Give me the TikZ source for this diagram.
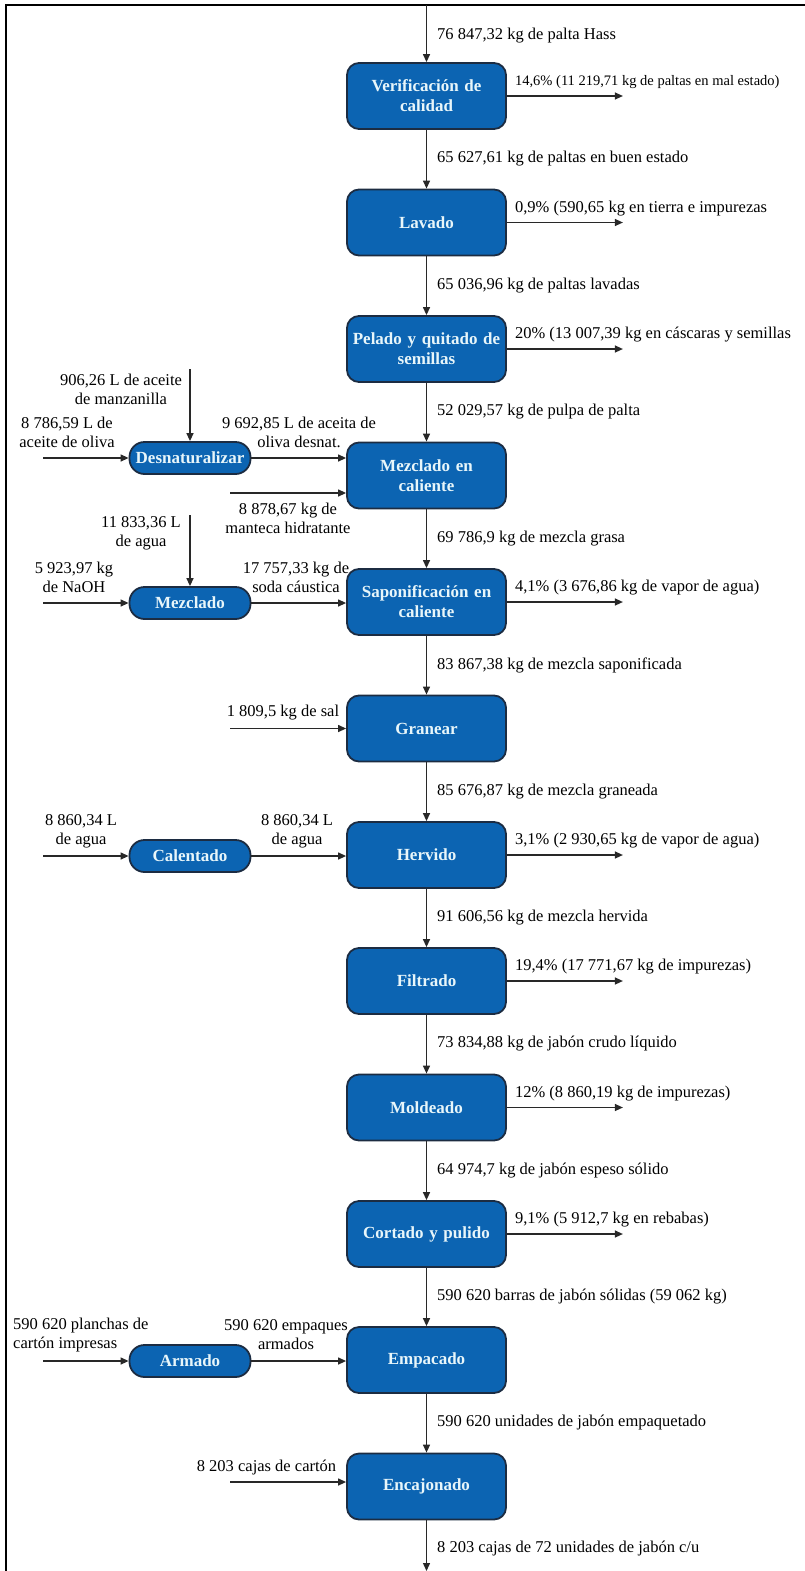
\documentclass[tikz,border=0pt]{standalone}
\usepackage{fontspec}
\setmainfont{Liberation Serif}
\usetikzlibrary{arrows.meta,calc}
\definecolor{boxblue}{RGB}{12,100,178}
\definecolor{boxedge}{RGB}{28,44,66}
\definecolor{boxtext}{RGB}{232,246,250}
\definecolor{flow}{RGB}{40,40,40}
\begin{document}
\begin{tikzpicture}[x=1pt,y=-1pt,
  mainbox/.style={draw=boxedge, line width=1.8pt, fill=boxblue, rounded corners=12pt,
    minimum width=159pt, minimum height=66pt, text width=155pt, align=center,
    text=boxtext, font=\fontsize{17}{20}\selectfont\bfseries, inner sep=1pt},
  sidebox/.style={draw=boxedge, line width=1.8pt, fill=boxblue, rounded corners=15pt,
    minimum width=121pt, minimum height=32pt, align=center,
    text=boxtext, font=\fontsize{17}{20}\selectfont\bfseries, inner sep=1pt},
  lbl/.style={font=\fontsize{16.5}{19}\selectfont, inner sep=0pt, text=black, align=center},
  lblsmall/.style={font=\fontsize{14.5}{17}\selectfont, inner sep=0pt, text=black},
  flowline/.style={draw=flow, line width=1.3pt, -{Triangle[width=7pt,length=8pt]}},
]
\useasboundingbox (0,0) rectangle (804,1571);

% outer frame (top and left edges)
\draw[line width=2pt, black] (6,1572) -- (6,5) -- (805,5);

% main process column
\node[mainbox] (verif) at (426.5,96)    {Verificación de\\calidad};
\node[mainbox] (lav)   at (426.5,222.5) {Lavado};
\node[mainbox] (pel)   at (426.5,349)   {Pelado y quitado de\\semillas};
\node[mainbox] (mezc)  at (426.5,475.5) {Mezclado en\\caliente};
\node[mainbox] (sapo)  at (426.5,602)   {Saponificación en\\caliente};
\node[mainbox] (gran)  at (426.5,728.5) {Granear};
\node[mainbox] (herv)  at (426.5,855)   {Hervido};
\node[mainbox] (filt)  at (426.5,981)   {Filtrado};
\node[mainbox] (mold)  at (426.5,1107.5){Moldeado};
\node[mainbox] (cort)  at (426.5,1234)  {Cortado y pulido};
\node[mainbox] (emp)   at (426.5,1360)  {Empacado};
\node[mainbox] (enc)   at (426.5,1486.5){Encajonado};

% auxiliary operations
\node[sidebox] (desn) at (190,458)  {Desnaturalizar};
\node[sidebox] (mzd)  at (190,603)  {Mezclado};
\node[sidebox] (cal)  at (190,856)  {Calentado};
\node[sidebox] (arm)  at (190,1361) {Armado};

% free ends of the connectors
\coordinate (top)    at (426.5,5);
\coordinate (bottom) at (426.5,1571);
\coordinate (manzin) at (190,369);
\coordinate (aguain) at (190,515);
\coordinate (olivin) at (43,458);
\coordinate (naohin) at (43,603);
\coordinate (calin)  at (43,856);
\coordinate (armin)  at (43,1361);
\coordinate (mantin) at (230,493);
\coordinate (salin)  at (230,728.5);
\coordinate (cajin)  at (230,1482);

% main flow
\draw[flowline] (top) -- (verif.north);
\draw[flowline] (verif) -- (lav);
\draw[flowline] (lav) -- (pel);
\draw[flowline] (pel) -- (mezc);
\draw[flowline] (mezc) -- (sapo);
\draw[flowline] (sapo) -- (gran);
\draw[flowline] (gran) -- (herv);
\draw[flowline] (herv) -- (filt);
\draw[flowline] (filt) -- (mold);
\draw[flowline] (mold) -- (cort);
\draw[flowline] (cort) -- (emp);
\draw[flowline] (emp) -- (enc);
\draw[flowline] (enc.south) -- (bottom);

\node[lbl, anchor=west] at (437,36)   {76 847,32 kg de palta Hass};
\node[lbl, anchor=west] at (437,159)  {65 627,61 kg de paltas en buen estado};
\node[lbl, anchor=west] at (437,286)  {65 036,96 kg de paltas lavadas};
\node[lbl, anchor=west] at (437,412)  {52 029,57 kg de pulpa de palta};
\node[lbl, anchor=west] at (437,539)  {69 786,9 kg de mezcla grasa};
\node[lbl, anchor=west] at (437,665)  {83 867,38 kg de mezcla saponificada};
\node[lbl, anchor=west] at (437,792)  {85 676,87 kg de mezcla graneada};
\node[lbl, anchor=west] at (437,918)  {91 606,56 kg de mezcla hervida};
\node[lbl, anchor=west] at (437,1044) {73 834,88 kg de jabón crudo líquido};
\node[lbl, anchor=west] at (437,1171) {64 974,7 kg de jabón espeso sólido};
\node[lbl, anchor=west] at (437,1297) {590 620 barras de jabón sólidas (59 062 kg)};
\node[lbl, anchor=west] at (437,1423) {590 620 unidades de jabón empaquetado};
\node[lbl, anchor=west] at (437,1549) {8 203 cajas de 72 unidades de jabón c/u};

% losses leaving the main column
\foreach \n in {verif,lav,pel,sapo,herv,filt,mold,cort}{
  \draw[flowline] (\n.east) -- ++(116,0) coordinate (\n-out);
}
\node[lblsmall, anchor=west] at ($(verif.east)+(8,-14)$) {14,6\% (11 219,71 kg de paltas en mal estado)};
\node[lbl, anchor=west] at ($(lav.east)+(8,-14)$)  {0,9\% (590,65 kg en tierra e impurezas};
\node[lbl, anchor=west] at ($(pel.east)+(8,-14)$)  {20\% (13 007,39 kg en cáscaras y semillas};
\node[lbl, anchor=west] at ($(sapo.east)+(8,-14)$) {4,1\% (3 676,86 kg de vapor de agua)};
\node[lbl, anchor=west] at ($(herv.east)+(8,-14)$) {3,1\% (2 930,65 kg de vapor de agua)};
\node[lbl, anchor=west] at ($(filt.east)+(8,-14)$) {19,4\% (17 771,67 kg de impurezas)};
\node[lbl, anchor=west] at ($(mold.east)+(8,-14)$) {12\% (8 860,19 kg de impurezas)};
\node[lbl, anchor=west] at ($(cort.east)+(8,-14)$) {9,1\% (5 912,7 kg en rebabas)};

% inputs on the left
\draw[flowline] (manzin) -- (desn.north);
\draw[flowline] (olivin) -- (desn.west);
\draw[flowline] (desn.east) -- (desn.east -| mezc.west);
\draw[flowline] (mantin) -- (mantin -| mezc.west);
\node[lbl] at (121,389)   {906,26 L de aceite\\de manzanilla};
\node[lbl] at (67,432)    {8 786,59 L de\\aceite de oliva};
\node[lbl] at (299,432)   {9 692,85 L de aceita de\\oliva desnat.};
\node[lbl] at (288,518)   {8 878,67 kg de\\manteca hidratante};

\draw[flowline] (aguain) -- (mzd.north);
\draw[flowline] (naohin) -- (mzd.west);
\draw[flowline] (mzd.east) -- (mzd.east -| sapo.west);
\node[lbl] at (141,533.5) {11 833,36 L\\de agua};
\node[lbl] at (74,577.5)  {5 923,97 kg\\de NaOH};
\node[lbl] at (296,577.5) {17 757,33 kg de\\soda cáustica};

\draw[flowline] (salin) -- (salin -| gran.west);
\node[lbl] at (283,713)   {1 809,5 kg de sal};

\draw[flowline] (calin) -- (cal.west);
\draw[flowline] (cal.east) -- (cal.east -| herv.west);
\node[lbl] at (81,831)    {8 860,34 L\\de agua};
\node[lbl] at (297,831)   {8 860,34 L\\de agua};

\draw[flowline] (armin) -- (arm.west);
\draw[flowline] (arm.east) -- (arm.east -| emp.west);
\node[lbl, anchor=west, align=left] at (13,1335) {590 620 planchas de\\cartón impresas};
\node[lbl] at (286,1335)  {590 620 empaques\\armados};

\draw[flowline] (cajin) -- (cajin -| enc.west);
\node[lbl] at (266.5,1468) {8 203 cajas de cartón};
\end{tikzpicture}
\end{document}
